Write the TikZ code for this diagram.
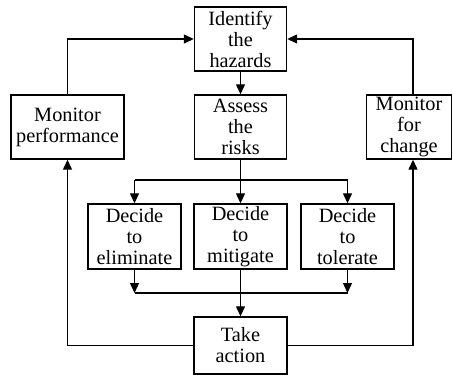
\documentclass[tikz,border=0pt]{standalone}
\usepackage{fontspec}
\setmainfont{Liberation Serif}
\usetikzlibrary{arrows.meta}
\tikzset{
  stepbox/.style={draw, line width=1.4pt, align=center, inner sep=0pt,
    font=\fontsize{20.3}{21}\selectfont},
  flow/.style={line width=1.3pt, -{Triangle[length=10pt,width=9pt]}},
  wire/.style={line width=1.3pt}
}
\begin{document}
\begin{tikzpicture}[x=1pt,y=-1pt]
                \useasboundingbox (0,0) rectangle (453,378);
                \node [stepbox, minimum width=92pt, minimum height=64pt] (ident) at (240.5,39) {Identify\\the\\hazards};
                \node [stepbox, minimum width=92pt, minimum height=64pt] (assess) at (240.5,127) {Assess\\the\\risks};
                \node [stepbox, minimum width=113pt, minimum height=64pt] (monperf) at (67.5,127) {Monitor\\performance};
                \node [stepbox, minimum width=85pt, minimum height=64pt] (monchg) at (409,127) {Monitor\\for\\change};
                \node [stepbox, minimum width=93pt, minimum height=65pt] (elim) at (134.5,236.5) {Decide\\to\\eliminate};
                \node [stepbox, minimum width=93pt, minimum height=65pt] (mitig) at (240.5,236.5) {Decide\\to\\mitigate};
                \node [stepbox, minimum width=93pt, minimum height=65pt] (toler) at (347.5,236.5) {Decide\\to\\tolerate};
                \node [stepbox, minimum width=93pt, minimum height=57pt] (action) at (240.5,345.5) {Take\\action};
                \coordinate (split) at (240.5,180);
                \coordinate (join) at (240.5,293);
                \coordinate (rx) at (413,0);
                \draw [flow] (ident) -- (assess);
                \draw [wire] (assess) -- (split);
                \draw [wire] (split -| elim) -- (split -| toler);
                \draw [flow] (split -| elim) -- (elim);
                \draw [flow] (split) -- (mitig);
                \draw [flow] (split -| toler) -- (toler);
                \draw [flow] (elim) -- (join -| elim);
                \draw [flow] (toler) -- (join -| toler);
                \draw [wire] (join -| elim) -- (join -| toler);
                \draw [flow] (mitig) -- (action);
                \draw [flow] (action.west) -| (monperf.south);
                \draw [flow] (action.east) -| (monchg.south -| rx);
                \draw [flow] (monperf.north) |- (ident.west);
                \draw [flow] (monchg.north -| rx) |- (ident.east);
            \end{tikzpicture}
\end{document}
